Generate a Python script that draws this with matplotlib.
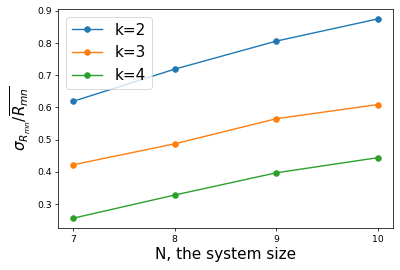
import matplotlib
matplotlib.use("Agg")
import matplotlib.pyplot as plt

N = [7, 8, 9, 10]
k2 = [0.619, 0.719, 0.806, 0.875]
k3 = [0.422, 0.487, 0.565, 0.609]
k4 = [0.256, 0.328, 0.397, 0.444]

fig = plt.figure(figsize=(6, 4.05), dpi=400 / 6)
plt.plot(N, k2, "o-", label="k=2")
plt.plot(N, k3, "o-", label="k=3")
plt.plot(N, k4, "o-", label="k=4")
plt.xticks(N)
plt.xlabel("N, the system size", fontsize=16.5)
plt.ylabel(r"$\sigma_{R_{mn}}/\overline{R_{mn}}$", fontsize=16.5)
plt.legend(fontsize=16.5, loc="upper left")
plt.subplots_adjust(left=0.145, right=0.983, top=0.967, bottom=0.155)
plt.savefig("out.png")
